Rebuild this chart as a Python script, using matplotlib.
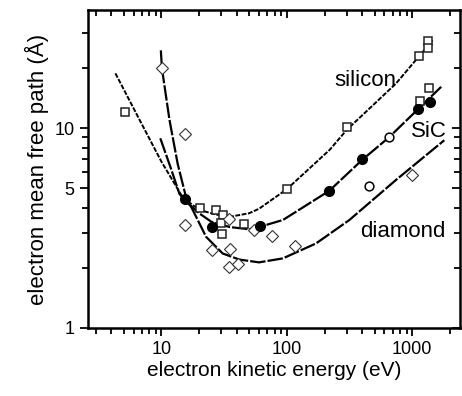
import numpy as np
import matplotlib
matplotlib.use("Agg")
import matplotlib.pyplot as plt
from matplotlib.ticker import LogLocator, FixedLocator, NullFormatter, FixedFormatter

plt.rcParams['font.family'] = ['Liberation Sans', 'DejaVu Sans']

# fitted curves
si_curve_x = [4.3, 6.7, 10, 14.8, 20, 27, 35, 50, 60, 100, 220, 300, 740, 1450]
si_curve_y = [18.8, 11.0, 6.8, 4.5, 3.9, 3.7, 3.6, 3.75, 3.95, 4.95, 7.8, 9.8, 16.7, 27.5]

sic_curve_x = [9.8, 12, 13.9, 15.3, 20, 25, 35, 50, 60, 93, 218, 400, 650, 1120, 1700]
sic_curve_y = [8.9, 6.2, 4.7, 4.35, 3.75, 3.4, 3.2, 3.12, 3.2, 3.47, 4.86, 6.95, 8.98, 12.5, 16.1]

dia_curve_x = [9.9, 10.1, 11.6, 13.5, 15.7, 17.8, 22.7, 30.8, 41.8, 60, 93, 171, 315, 740, 1800]
dia_curve_y = [24.5, 19.9, 11.0, 6.6, 4.53, 3.89, 2.86, 2.36, 2.2, 2.13, 2.23, 2.65, 3.47, 5.5, 8.7]

# measured points
si_x = [5.1, 20.2, 27.3, 30.8, 29.9, 30.2, 45.3, 100, 300, 1140, 1340, 1340, 1350, 1160]
si_y = [12.0, 4.0, 3.89, 3.67, 3.34, 2.97, 3.3, 4.95, 10.1, 22.9, 27.3, 25.3, 15.9, 13.6]

dia_x = [10.1, 15.5, 15.3, 25.4, 35.2, 34.8, 40.6, 34.8, 55, 76, 116, 1000]
dia_y = [19.9, 9.4, 3.27, 2.47, 2.48, 2.03, 2.08, 3.5, 3.11, 2.88, 2.58, 5.8]

sic_x = [15.3, 25.4, 61, 218, 397, 1120, 1380]
sic_y = [4.4, 3.19, 3.24, 4.86, 6.97, 12.5, 13.5]

sic2_x = [449, 648]
sic2_y = [5.15, 8.98]

fig = plt.figure(figsize=(4.62, 3.96), dpi=100)
ax = fig.add_axes([88/462, 1-328/396, (460-88)/462, (328-10)/396])
ax.set_xscale('log')
ax.set_yscale('log')

ls = (0, (7, 0.9))
ax.plot(si_curve_x, si_curve_y, color='black', lw=1.4, ls=(0, (2.5, 0.8)))
ax.plot(sic_curve_x, sic_curve_y, color='black', lw=1.6, ls=ls)
ax.plot(dia_curve_x, dia_curve_y, color='black', lw=1.6, ls=ls)

ax.plot(si_x, si_y, 's', ms=6, mfc='white', mec='#222222', mew=1.1, ls='none')
ax.plot(dia_x, dia_y, 'D', ms=5.8, mfc='white', mec='#333333', mew=0.8, ls='none')
ax.plot(sic_x, sic_y, 'o', ms=7, mfc='black', mec='black', ls='none')
ax.plot(sic2_x, sic2_y, 'o', ms=6.3, mfc='white', mec='black', mew=1.1, ls='none')

ax.text(422, 17.4, 'silicon', fontsize=16, ha='center', va='center')
ax.text(1365, 9.6, 'SiC', fontsize=16, ha='center', va='center')
ax.text(847, 3.04, 'diamond', fontsize=16, ha='center', va='center')

ax.set_xlim(2.6, 2400)
ax.set_ylim(1, 39)

ax.xaxis.set_major_locator(FixedLocator([10, 100, 1000]))
ax.xaxis.set_major_formatter(FixedFormatter(['10', '100', '1000']))
ax.xaxis.set_minor_locator(LogLocator(base=10, subs=np.arange(2, 10), numticks=20))
ax.xaxis.set_minor_formatter(NullFormatter())
ax.yaxis.set_major_locator(FixedLocator([1, 5, 10]))
ax.yaxis.set_major_formatter(FixedFormatter(['1', '5', '10']))
ax.yaxis.set_minor_locator(LogLocator(base=10, subs=np.arange(2, 10), numticks=20))
ax.yaxis.set_minor_formatter(NullFormatter())

for s in ax.spines.values():
    s.set_linewidth(1.8)
ax.tick_params(which='both', direction='out', width=1.3, labelsize=13, top=True, right=True)
ax.tick_params(which='major', length=6)
ax.tick_params(which='minor', length=4)
# mirrored ticks point inside
for t in ax.xaxis.get_major_ticks() + ax.xaxis.get_minor_ticks():
    t.tick2line.set_marker(3)
for t in ax.yaxis.get_major_ticks() + ax.yaxis.get_minor_ticks():
    t.tick2line.set_marker(0)

ax.set_xlabel('electron kinetic energy (eV)', fontsize=15, labelpad=2)
ax.set_ylabel('electron mean free path (Å)', fontsize=16, labelpad=4)

fig.savefig('out.png', dpi=100)
